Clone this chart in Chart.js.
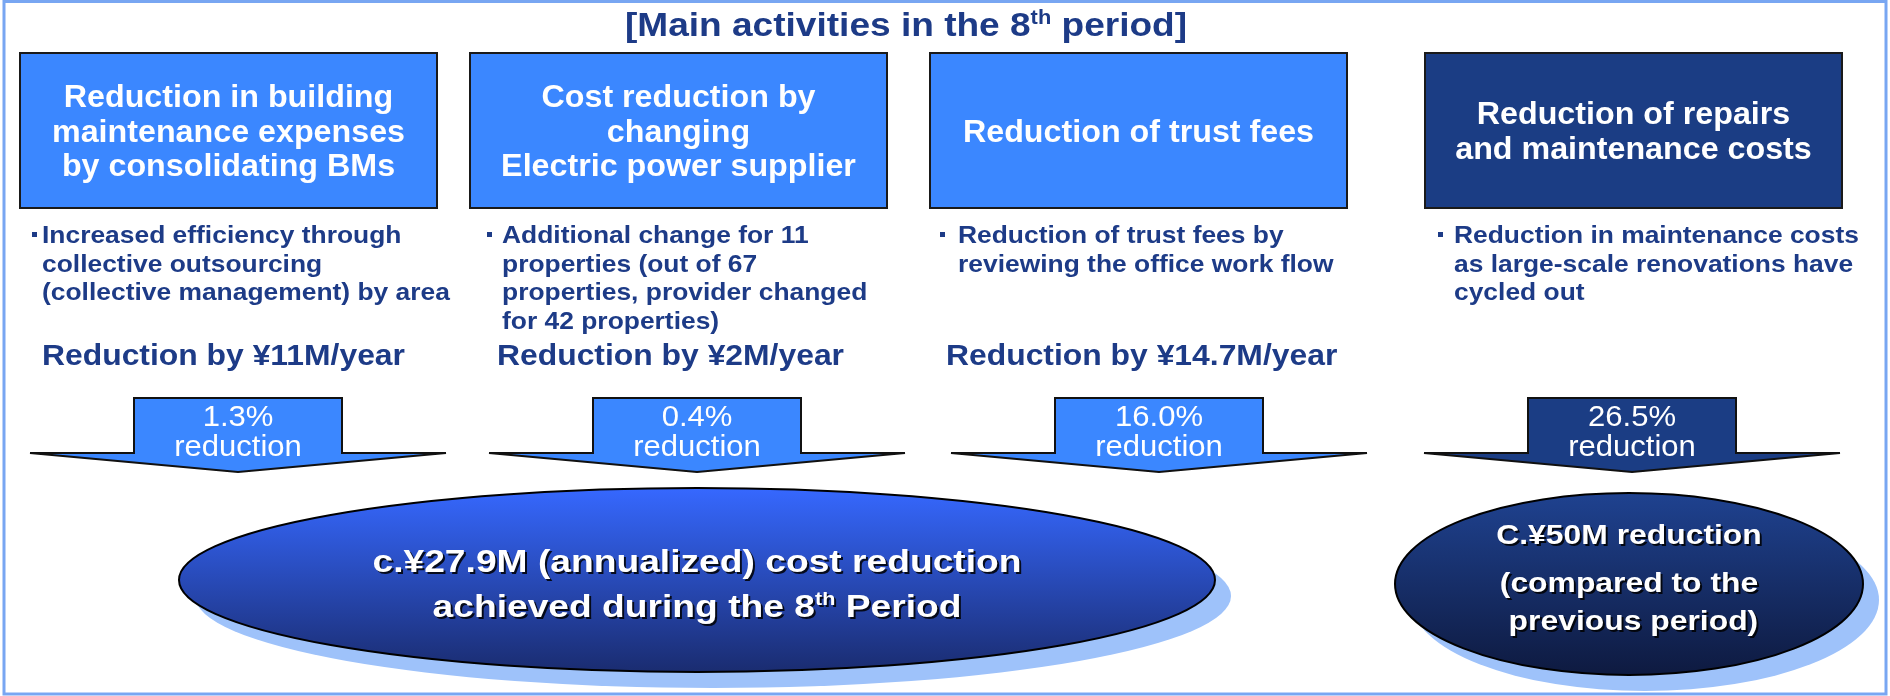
<!DOCTYPE html>
<html>
<head>
<meta charset="utf-8">
<title>Main activities in the 8th period</title>
<script src="https://cdn.jsdelivr.net/npm/chart.js@4"></script>
<style>
    html, body { margin: 0; padding: 0; background: #ffffff; }
    canvas { display: block; }
</style>
</head>
<body>
<canvas id="activityChart" width="1890" height="696"></canvas>
<script>
// Activities and their results
const categories = [
    ['Reduction in building', 'maintenance expenses', 'by consolidating BMs'],
    ['Cost reduction by', 'changing', 'Electric power supplier'],
    ['Reduction of trust fees'],
    ['Reduction of repairs', 'and maintenance costs']
];
const details = [
    ['Increased efficiency through', 'collective outsourcing', '(collective management) by area'],
    ['Additional change for 11', 'properties (out of 67', 'properties, provider changed', 'for 42 properties)'],
    ['Reduction of trust fees by', 'reviewing the office work flow'],
    ['Reduction in maintenance costs', 'as large-scale renovations have', 'cycled out']
];
const annualSavings = [11, 2, 14.7, null];   // ¥M per year
const reductionPct = [1.3, 0.4, 16.0, 26.5]; // %
const periodTotal = 27.9;                     // ¥M annualized
const vsPrevious = 50;                        // ¥M vs previous period

// Layout (pixel units of the x/y scales)
const FONT = '"Liberation Sans", Arial, sans-serif';
const NAVY_TEXT = '#1d3b87';
const LIGHT = '#3b87ff';
const DARK = '#1b3d84';
const LAYOUT = {
    boxes: [[20, 53, 437, 208], [470, 53, 887, 208], [930, 53, 1347, 208], [1425, 53, 1842, 208]],
    boxColors: [LIGHT, LIGHT, LIGHT, DARK],
    bulletX: [32, 487, 940, 1438],
    textX: [42, 502, 958, 1454],
    amountX: [42, 497, 946],
    arrowX: [238, 697, 1159, 1632],
    ellipses: [
        { cx: 697, cy: 580, rx: 518, ry: 92, top: '#3668ff', bottom: '#1a2c70' },
        { cx: 1629, cy: 584, rx: 234, ry: 91, top: '#1f4290', bottom: '#0e1a40' }
    ]
};

// Draw a line made of parts (for superscripts), stretched horizontally by sx
function drawRich(ctx, parts, x, y, align, sx) {
    let total = 0;
    parts.forEach(p => {
        ctx.font = p.font;
        p.w = ctx.measureText(p.text).width * sx;
        total += p.w;
    });
    let cur = align === 'center' ? x - total / 2 : x;
    parts.forEach(p => {
        ctx.save();
        ctx.translate(cur, y + (p.dy || 0));
        ctx.scale(sx, 1);
        ctx.font = p.font;
        ctx.textAlign = 'left';
        ctx.textBaseline = 'alphabetic';
        ctx.fillText(p.text, 0, 0);
        ctx.restore();
        cur += p.w;
    });
}

function drawArrow(ctx, cx, color) {
    const stem = 104, wing = 208, top = 398, shoulder = 453, tip = 472;
    ctx.beginPath();
    ctx.moveTo(cx - stem, top);
    ctx.lineTo(cx + stem, top);
    ctx.lineTo(cx + stem, shoulder);
    ctx.lineTo(cx + wing, shoulder);
    ctx.lineTo(cx, tip);
    ctx.lineTo(cx - wing, shoulder);
    ctx.lineTo(cx - stem, shoulder);
    ctx.closePath();
    ctx.fillStyle = color;
    ctx.fill();
    ctx.lineWidth = 2;
    ctx.strokeStyle = '#111111';
    ctx.stroke();
}

function drawEllipse(ctx, e) {
    // shadow
    ctx.beginPath();
    ctx.ellipse(e.cx + 16, e.cy + 16, e.rx, e.ry, 0, 0, Math.PI * 2);
    ctx.fillStyle = '#9ec2fa';
    ctx.fill();
    // body
    const grad = ctx.createLinearGradient(0, e.cy - e.ry, 0, e.cy + e.ry);
    grad.addColorStop(0, e.top);
    grad.addColorStop(1, e.bottom);
    ctx.beginPath();
    ctx.ellipse(e.cx, e.cy, e.rx, e.ry, 0, 0, Math.PI * 2);
    ctx.fillStyle = grad;
    ctx.fill();
    ctx.lineWidth = 2;
    ctx.strokeStyle = '#000000';
    ctx.stroke();
}

const infographicPlugin = {
    id: 'infographic',
    afterDraw(chart) {
        const ctx = chart.ctx;
        const xs = chart.scales.x;
        const ys = chart.scales.y;
        const X = v => xs.getPixelForValue(v);
        const Y = v => ys.getPixelForValue(v);

        ctx.save();

        // Outer frame
        ctx.lineWidth = 3;
        ctx.strokeStyle = '#78a6f2';
        ctx.strokeRect(X(4), Y(1.5), X(1886) - X(4), Y(694) - Y(1.5));

        // Title
        ctx.fillStyle = NAVY_TEXT;
        drawRich(ctx, [
            { text: '[Main activities in the 8', font: `bold 34px ${FONT}` },
            { text: 'th', font: `bold 20px ${FONT}`, dy: -12 },
            { text: ' period]', font: `bold 34px ${FONT}` }
        ], X(906), Y(36), 'center', 1.09);

        categories.forEach((lines, i) => {
            const [x0, y0, x1, y1] = LAYOUT.boxes[i];
            // header box
            ctx.fillStyle = LAYOUT.boxColors[i];
            ctx.fillRect(X(x0), Y(y0), X(x1) - X(x0), Y(y1) - Y(y0));
            ctx.lineWidth = 2;
            ctx.strokeStyle = '#1a1a1a';
            ctx.strokeRect(X(x0), Y(y0), X(x1) - X(x0), Y(y1) - Y(y0));
            ctx.fillStyle = '#ffffff';
            const mid = (y0 + y1) / 2;
            lines.forEach((line, j) => {
                const base = mid + (j - (lines.length - 1) / 2) * 34.5 + 11;
                drawRich(ctx, [{ text: line, font: `bold 31px ${FONT}` }], X((x0 + x1) / 2), Y(base), 'center', 1.04);
            });

            // bullet text
            ctx.fillStyle = NAVY_TEXT;
            ctx.fillRect(X(LAYOUT.bulletX[i]), Y(232), 5, 5);
            details[i].forEach((line, j) => {
                drawRich(ctx, [{ text: line, font: `bold 24px ${FONT}` }], X(LAYOUT.textX[i]), Y(243 + j * 28.5), 'left', 1.1);
            });

            // annual saving
            if (annualSavings[i] !== null) {
                drawRich(ctx, [{ text: `Reduction by ¥${annualSavings[i]}M/year`, font: `bold 29.5px ${FONT}` }],
                    X(LAYOUT.amountX[i]), Y(365), 'left', 1.08);
            }

            // reduction arrow
            const ax = X(LAYOUT.arrowX[i]);
            drawArrow(ctx, ax, LAYOUT.boxColors[i]);
            ctx.fillStyle = '#ffffff';
            drawRich(ctx, [{ text: `${reductionPct[i].toFixed(1)}%`, font: `29px ${FONT}` }], ax, Y(426), 'center', 1.07);
            drawRich(ctx, [{ text: 'reduction', font: `29px ${FONT}` }], ax, Y(456), 'center', 1.07);
        });

        // Result ellipses
        LAYOUT.ellipses.forEach(e => drawEllipse(ctx, e));

        ctx.fillStyle = '#ffffff';
        ctx.shadowColor = 'rgba(0, 0, 0, 0.85)';
        ctx.shadowOffsetX = 2;
        ctx.shadowOffsetY = 2;
        ctx.shadowBlur = 0;
        const e1 = LAYOUT.ellipses[0];
        drawRich(ctx, [{ text: `c.¥${periodTotal}M (annualized) cost reduction`, font: `bold 31px ${FONT}` }],
            X(e1.cx), Y(572), 'center', 1.2);
        drawRich(ctx, [
            { text: 'achieved during the 8', font: `bold 31px ${FONT}` },
            { text: 'th', font: `bold 18px ${FONT}`, dy: -12 },
            { text: ' Period', font: `bold 31px ${FONT}` }
        ], X(e1.cx), Y(617), 'center', 1.2);

        const e2 = LAYOUT.ellipses[1];
        drawRich(ctx, [{ text: `C.¥${vsPrevious}M reduction`, font: `bold 27px ${FONT}` }], X(e2.cx), Y(544), 'center', 1.18);
        drawRich(ctx, [{ text: '(compared to the', font: `bold 27px ${FONT}` }], X(e2.cx), Y(592), 'center', 1.18);
        drawRich(ctx, [{ text: ' previous period)', font: `bold 27px ${FONT}` }], X(e2.cx), Y(630), 'center', 1.18);

        ctx.restore();
    }
};

const chart = new Chart(document.getElementById('activityChart'), {
    type: 'scatter',
    data: { datasets: [] },
    options: {
        responsive: false,
        animation: false,
        events: [],
        layout: { padding: 0 },
        plugins: {
            legend: { display: false },
            tooltip: { enabled: false }
        },
        scales: {
            x: { type: 'linear', min: 0, max: 1890, display: false },
            y: { type: 'linear', min: 0, max: 696, reverse: true, display: false }
        }
    },
    plugins: [infographicPlugin]
});
</script>
</body>
</html>
